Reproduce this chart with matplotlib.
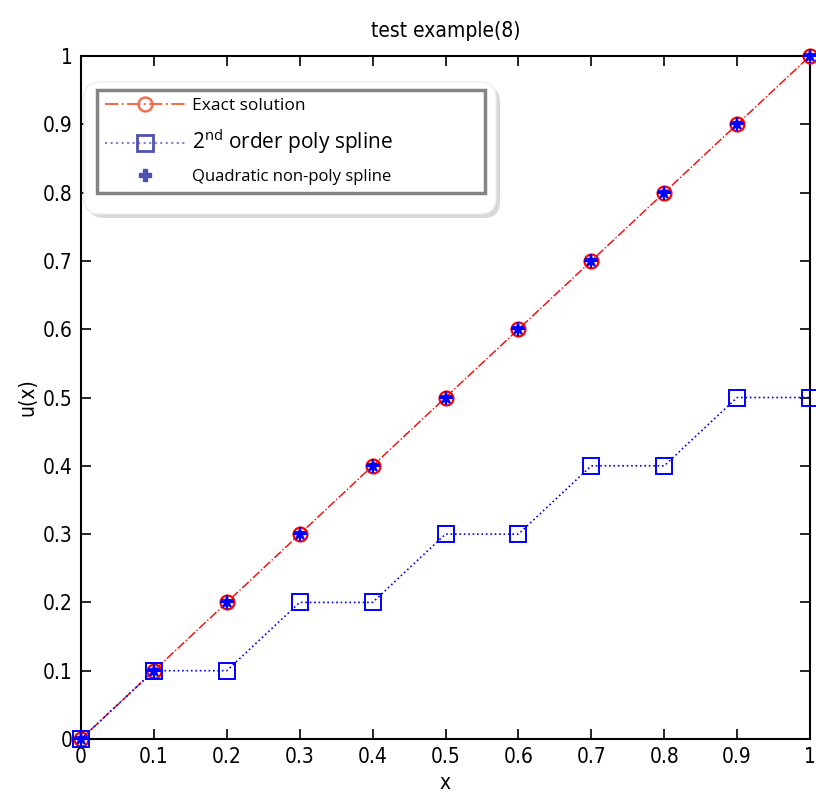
import matplotlib
matplotlib.use("Agg")
import matplotlib.pyplot as plt
from matplotlib.patches import FancyBboxPatch
from matplotlib.lines import Line2D

x = [0, 0.1, 0.2, 0.3, 0.4, 0.5, 0.6, 0.7, 0.8, 0.9, 1.0]
exact = [0, 0.1, 0.2, 0.3, 0.4, 0.5, 0.6, 0.7, 0.8, 0.9, 1.0]
poly2 = [0, 0.1, 0.1, 0.2, 0.2, 0.3, 0.3, 0.4, 0.4, 0.5, 0.5]
nonpoly = [0, 0.1, 0.2, 0.3, 0.4, 0.5, 0.6, 0.7, 0.8, 0.9, 1.0]
ticks = [0, 0.1, 0.2, 0.3, 0.4, 0.5, 0.6, 0.7, 0.8, 0.9, 1]
tick_labels = ["0", "0.1", "0.2", "0.3", "0.4", "0.5", "0.6", "0.7", "0.8", "0.9", "1"]

plt.rcParams["mathtext.fontset"] = "custom"
plt.rcParams["mathtext.rm"] = "Open Sans"

fig = plt.figure(figsize=(8.16, 8.07), dpi=100)
ax = fig.add_axes([81/816, 1-739/807, 729/816, 683/807])

ax.plot(x, exact, color="red", linestyle="-.", linewidth=1, marker="o",
        markersize=10, markerfacecolor="none", markeredgecolor="red",
        markeredgewidth=1.6, zorder=3, clip_on=False)
ax.plot(x, poly2, color="blue", linestyle=":", linewidth=1.2, marker="s",
        markersize=12, markerfacecolor="none", markeredgecolor="blue",
        markeredgewidth=1.4, zorder=3, clip_on=False)
ax.plot(x, nonpoly, color="blue", linestyle="none", marker="*", markersize=9,
        markeredgewidth=1.3, zorder=4, clip_on=False)
ax.plot(x, nonpoly, color="blue", linestyle="none", marker="+", markersize=10,
        markeredgewidth=1.6, zorder=4, clip_on=False)

tfont = {"family": "DejaVu Sans", "stretch": "condensed", "size": 15}
ax.set_xlim(0, 1)
ax.set_ylim(0, 1)
ax.set_xticks(ticks)
ax.set_yticks(ticks)
ax.set_xticklabels(tick_labels, fontdict=tfont)
ax.set_yticklabels(tick_labels, fontdict=tfont)
ax.tick_params(direction="in", length=7, width=1.2, top=True, right=True, pad=6)
for s in ax.spines.values():
    s.set_linewidth(1.5)
ax.set_xlabel("x", fontdict=tfont)
ax.set_ylabel("u(x)", fontdict=tfont)
ax.set_title("test example(8)", fontdict=tfont, pad=14)

# legend backing (rounded box with shadow)
shadow = FancyBboxPatch((88/816, 1-218/807), 412/816, 132/807,
                        boxstyle="round,pad=0,rounding_size=0.02",
                        transform=fig.transFigure, facecolor="#d8d8d8",
                        edgecolor="none", zorder=5)
back = FancyBboxPatch((84/816, 1-214/807), 412/816, 132/807,
                      boxstyle="round,pad=0,rounding_size=0.02",
                      transform=fig.transFigure, facecolor="white",
                      edgecolor="#eeeeee", zorder=6)
fig.patches.extend([shadow, back])

handles = [
    Line2D([], [], color="#f07050", linestyle="-.", marker="o", markersize=10,
           markerfacecolor="none", markeredgecolor="#f07050", markeredgewidth=1.8),
    Line2D([], [], color="#8080d0", linestyle=":", marker="s", markersize=11,
           markerfacecolor="none", markeredgecolor="#5050b0", markeredgewidth=2.0),
    Line2D([], [], color="#5050b0", linestyle="none", marker="P", markersize=9),
]
labels = ["Exact solution", "2$^{\\mathrm{nd}}$ order poly spline", "Quadratic non-poly spline"]
leg = fig.legend(handles, labels, loc="upper left",
                 bbox_to_anchor=(97/816, 1-195/807, 388/816, 105/807),
                 mode="expand", frameon=True, fancybox=False, handlelength=4.6,
                 handletextpad=0.4, borderaxespad=0, labelspacing=0.75, borderpad=0.45,
                 prop={"family": "Open Sans", "size": 12.5})
leg.set_zorder(7)
frame = leg.get_frame()
frame.set_edgecolor("#666666")
frame.set_linewidth(2.5)
leg.get_texts()[0].set_fontsize(12.5)
leg.get_texts()[1].set_fontsize(15)
leg.get_texts()[2].set_fontsize(12)

fig.savefig("out.png", dpi=100)
